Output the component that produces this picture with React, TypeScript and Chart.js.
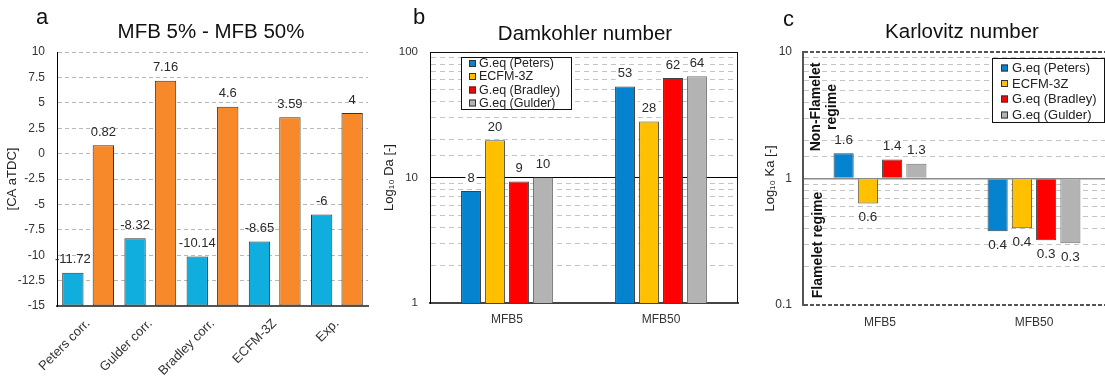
import React, { useEffect, useRef } from 'react';
import { Chart, registerables } from 'chart.js';

Chart.register(...registerables);

const FONT = "'Liberation Sans', Arial, Helvetica, sans-serif";

// ---------- Panel a data ----------
const aCategories = ['Peters corr.', 'Gulder corr.', 'Bradley corr.', 'ECFM-3Z', 'Exp.'];
const aMfb5 = [-11.72, -8.32, -10.14, -8.65, -6];
const aMfb50 = [0.82, 7.16, 4.6, 3.59, 4];
const aMin = -15;
const aMax = 10;
const aStep = 2.5;

// ---------- Panel b / c data ----------
const seriesNames = ['G.eq (Peters)', 'ECFM-3Z', 'G.eq (Bradley)', 'G.eq (Gulder)'];
const seriesColors = ['#0683CE', '#FFC000', '#FF0000', '#B3B3B3'];
const seriesBorders = ['#404040', '#505050', '#404040', '#707070'];
const phaseCategories = ['MFB5', 'MFB50'];

const daPeters = [7.8, 53];
const daEcfm = [19.8, 28];
const daBradley = [9.3, 62];
const daGulder = [10, 64];

const kaPeters = [1.58, 0.383];
const kaEcfm = [0.635, 0.404];
const kaBradley = [1.415, 0.325];
const kaGulder = [1.31, 0.308];

const H = 376;

const isPow10 = (v: number) => Math.abs(Math.log10(v) - Math.round(Math.log10(v))) < 1e-6;

function textPlugin(letter: string, lx: number, ly: number, title: string, tx: number, ty: number, titleSize: number) {
  return {
    id: 'panelText',
    afterDraw(chart: any) {
      const ctx = chart.ctx;
      ctx.save();
      ctx.fillStyle = '#111';
      ctx.textBaseline = 'alphabetic';
      ctx.textAlign = 'left';
      ctx.font = `22px ${FONT}`;
      ctx.fillText(letter, lx, ly);
      ctx.textAlign = 'center';
      ctx.font = `${titleSize}px ${FONT}`;
      ctx.fillText(title, tx, ty);
      ctx.restore();
    },
  };
}

function valueLabelPlugin(opts: {
  size: number;
  format: (v: number) => string;
  offsetAbove: number;
  offsetBelow?: number;
  pivot?: number;
  bg?: boolean;
}) {
  return {
    id: 'valueLabels',
    afterDatasetsDraw(chart: any) {
      const ctx = chart.ctx;
      ctx.save();
      ctx.font = `${opts.size}px ${FONT}`;
      ctx.textAlign = 'center';
      ctx.textBaseline = 'middle';
      chart.data.datasets.forEach((ds: any, di: number) => {
        const meta = chart.getDatasetMeta(di);
        meta.data.forEach((el: any, i: number) => {
          const v = ds.data[i] as number;
          const text = opts.format(v);
          const below = opts.pivot !== undefined && v < opts.pivot;
          const y = below ? el.y + (opts.offsetBelow ?? opts.offsetAbove) : el.y - opts.offsetAbove;
          if (opts.bg) {
            const w = ctx.measureText(text).width;
            ctx.fillStyle = '#fff';
            ctx.fillRect(el.x - w / 2 - 2, y - opts.size / 2 - 1, w + 4, opts.size + 2);
          }
          ctx.fillStyle = '#2a2a2a';
          ctx.fillText(text, el.x, y);
        });
      });
      ctx.restore();
    },
  };
}

function legendPlugin(box: { x: number; y: number; w: number; h: number }, rows: number[], markerX: number, textX: number, fontSize: number, marker: number) {
  return {
    id: 'boxLegend',
    afterDraw(chart: any) {
      const ctx = chart.ctx;
      ctx.save();
      ctx.fillStyle = '#fff';
      ctx.fillRect(box.x, box.y, box.w, box.h);
      ctx.strokeStyle = '#111';
      ctx.lineWidth = 1;
      ctx.strokeRect(box.x + 0.5, box.y + 0.5, box.w, box.h);
      ctx.font = `${fontSize}px ${FONT}`;
      ctx.textAlign = 'left';
      ctx.textBaseline = 'middle';
      chart.data.datasets.forEach((ds: any, i: number) => {
        const cy = rows[i];
        ctx.fillStyle = ds.backgroundColor;
        ctx.fillRect(markerX, cy - marker / 2, marker, marker);
        ctx.strokeStyle = '#333';
        ctx.strokeRect(markerX + 0.5, cy - marker / 2 + 0.5, marker - 1, marker - 1);
        ctx.fillStyle = '#222';
        ctx.fillText(ds.label, textX, cy + 0.5);
      });
      ctx.restore();
    },
  };
}

function framePlugin() {
  return {
    id: 'frame',
    afterDatasetsDraw(chart: any) {
      const { ctx, chartArea: a } = chart;
      ctx.save();
      ctx.strokeStyle = '#111';
      ctx.lineWidth = 1;
      ctx.beginPath();
      ctx.moveTo(a.left, Math.round(a.top) + 0.5);
      ctx.lineTo(a.right, Math.round(a.top) + 0.5);
      ctx.moveTo(Math.round(a.right) - 0.5, a.top);
      ctx.lineTo(Math.round(a.right) - 0.5, a.bottom);
      ctx.stroke();
      ctx.restore();
    },
  };
}

function regimePlugin() {
  return {
    id: 'regime',
    afterDatasetsDraw(chart: any) {
      const ctx = chart.ctx;
      ctx.save();
      ctx.fillStyle = '#111';
      ctx.font = `bold 14px ${FONT}`;
      ctx.textAlign = 'center';
      ctx.textBaseline = 'middle';
      ctx.translate(74, 107);
      ctx.rotate(-Math.PI / 2);
      ctx.fillText('Non-Flamelet', 0, 0);
      ctx.fillText('regime', 0, 16);
      ctx.restore();
      ctx.save();
      ctx.fillStyle = '#111';
      ctx.font = `bold 14px ${FONT}`;
      ctx.textAlign = 'center';
      ctx.textBaseline = 'middle';
      ctx.translate(76, 245);
      ctx.rotate(-Math.PI / 2);
      ctx.fillText('Flamelet regime', 0, 0);
      ctx.restore();
    },
  };
}

function configA(width: number) {
  const areaLeft = 57, areaRight = 368, areaTop = 52, areaBottom = 306;
  return {
    type: 'bar',
    data: {
      labels: aCategories,
      datasets: [
        { label: 'MFB 5%', data: aMfb5, backgroundColor: '#10ADDF', borderColor: '#333', borderWidth: 1, borderSkipped: false, base: aMin },
        { label: 'MFB 50%', data: aMfb50, backgroundColor: '#F7892A', borderColor: '#333', borderWidth: 1, borderSkipped: false, base: aMin },
      ],
    },
    options: {
      animation: false,
      responsive: false,
      devicePixelRatio: 1,
      layout: { padding: { left: 0, top: areaTop, right: width - areaRight, bottom: 0 } },
      plugins: { legend: { display: false }, tooltip: { enabled: false }, title: { display: false } },
      datasets: { bar: { categoryPercentage: 0.98, barPercentage: 0.7 } },
      scales: {
        x: {
          grid: { display: false },
          border: { display: true, color: '#555', width: 2 },
          ticks: { maxRotation: 45, minRotation: 45, font: { family: FONT, size: 13 }, color: '#333', padding: 2 },
          afterFit: (s: any) => { s.height = H - areaBottom; },
        },
        y: {
          min: aMin,
          max: aMax,
          ticks: { stepSize: aStep, font: { family: FONT, size: 12 }, color: '#333', padding: 12 },
          grid: { color: '#b8b8b8', drawTicks: false, lineWidth: 1 },
          border: { display: true, color: '#000', width: 1, dash: [4, 3] },
          title: { display: true, text: '[CA aTDC]', font: { family: FONT, size: 13 }, color: '#222', padding: { top: 5, bottom: 0 } },
          afterFit: (s: any) => { s.width = areaLeft; },
        },
      },
    },
    plugins: [
      valueLabelPlugin({ size: 13, format: (v) => String(v), offsetAbove: 13 }),
      textPlugin('a', 36, 24, 'MFB 5% - MFB 50%', 211, 38, 20.5),
    ],
  };
}

function phaseDatasets(values: number[][], base?: number) {
  return values.map((d, i) => ({
    label: seriesNames[i],
    data: d,
    backgroundColor: seriesColors[i],
    borderColor: seriesBorders[i],
    borderWidth: 1,
    ...(base !== undefined ? { base } : {}),
  }));
}

function configB(left: number, width: number) {
  const areaLeft = 430 - left, areaRight = 738 - left, areaTop = 52, areaBottom = 303;
  return {
    type: 'bar',
    data: { labels: phaseCategories, datasets: phaseDatasets([daPeters, daEcfm, daBradley, daGulder]) },
    options: {
      animation: false,
      responsive: false,
      devicePixelRatio: 1,
      layout: { padding: { left: 0, top: areaTop, right: width - areaRight, bottom: 0 } },
      plugins: { legend: { display: false }, tooltip: { enabled: false }, title: { display: false } },
      datasets: { bar: { categoryPercentage: 0.623, barPercentage: 0.83 } },
      scales: {
        x: {
          grid: { display: false },
          border: { display: true, color: '#444', width: 2 },
          ticks: { maxRotation: 0, minRotation: 0, font: { family: FONT, size: 12 }, color: '#333', padding: 1 },
          afterFit: (s: any) => { s.height = H - areaBottom; },
        },
        y: {
          type: 'logarithmic',
          min: 1,
          max: 100,
          ticks: {
            autoSkip: false,
            font: { family: FONT, size: 11.5 },
            color: '#333',
            padding: 12,
            callback: (v: any) => (isPow10(Number(v)) ? String(Math.round(Number(v))) : ''),
          },
          grid: {
            drawTicks: false,
            color: (c: any) => (c.tick && Math.abs(c.tick.value - 10) < 1e-6 ? '#000' : '#c4c4c4'),
            lineWidth: 1,
          },
          border: {
            display: true,
            color: '#000',
            width: 1,
            dash: (c: any) => (c.tick && Math.abs(c.tick.value - 10) < 1e-6 ? [] : [5, 4]),
          },
          title: { display: true, text: 'Log\u2081\u2080 Da [-]', font: { family: FONT, size: 13 }, color: '#222', padding: { top: 10, bottom: 0 } },
          afterFit: (s: any) => { s.width = areaLeft; },
        },
      },
    },
    plugins: [
      framePlugin(),
      valueLabelPlugin({ size: 13, format: (v) => String(Math.round(v)), offsetAbove: 13, bg: true }),
      legendPlugin({ x: 461 - left, y: 57, w: 110, h: 52 }, [63.5, 76.5, 90, 103], 469 - left, 479 - left, 12.5, 7),
      textPlugin('b', 413 - left, 24, 'Damkohler number', 585 - left, 40, 20.5),
    ],
  };
}

function configC(left: number, width: number) {
  const areaLeft = 803 - left, areaRight = 1111 - left, areaTop = 52, areaBottom = 305;
  const near = (a: number, b: number) => Math.abs(a - b) < 1e-6 * Math.max(1, b);
  return {
    type: 'bar',
    data: { labels: phaseCategories, datasets: phaseDatasets([kaPeters, kaEcfm, kaBradley, kaGulder], 1) },
    options: {
      animation: false,
      responsive: false,
      devicePixelRatio: 1,
      layout: { padding: { left: 0, top: areaTop, right: width - areaRight, bottom: 0 } },
      plugins: { legend: { display: false }, tooltip: { enabled: false }, title: { display: false } },
      datasets: { bar: { categoryPercentage: 0.63, barPercentage: 0.83 } },
      scales: {
        x: {
          grid: { display: false },
          border: { display: false },
          ticks: { maxRotation: 0, minRotation: 0, font: { family: FONT, size: 12 }, color: '#333', padding: 2 },
          afterFit: (s: any) => { s.height = H - areaBottom; },
        },
        y: {
          type: 'logarithmic',
          min: 0.1,
          max: 10,
          ticks: {
            autoSkip: false,
            font: { family: FONT, size: 12 },
            color: '#333',
            padding: 11,
            callback: (v: any) => (isPow10(Number(v)) ? String(Number(Number(v).toPrecision(3))) : ''),
          },
          grid: {
            drawTicks: false,
            color: (c: any) => {
              if (!c.tick) return '#c4c4c4';
              const v = c.tick.value;
              if (near(v, 1)) return '#8a8a8a';
              if (near(v, 10) || near(v, 0.1)) return '#555';
              return '#c4c4c4';
            },
            lineWidth: (c: any) => {
              if (!c.tick) return 1;
              const v = c.tick.value;
              if (near(v, 10) || near(v, 0.1)) return 2;
              if (near(v, 1)) return 1.5;
              return 1;
            },
          },
          border: {
            display: true,
            color: '#555',
            width: 2,
            dash: (c: any) => {
              if (!c.tick) return [];
              const v = c.tick.value;
              if (near(v, 1)) return [];
              if (near(v, 10) || near(v, 0.1)) return [4, 2];
              return [5, 4];
            },
          },
          title: { display: true, text: 'Log\u2081\u2080 Ka [-]', font: { family: FONT, size: 13 }, color: '#222', padding: { top: 21, bottom: 0 } },
          afterFit: (s: any) => { s.width = areaLeft; },
        },
      },
    },
    plugins: [
      valueLabelPlugin({ size: 13.5, format: (v) => v.toFixed(1), offsetAbove: 13, offsetBelow: 14, pivot: 1 }),
      regimePlugin(),
      legendPlugin({ x: 992 - left, y: 58, w: 112, h: 64 }, [68, 83.5, 99, 115], 1001 - left, 1012 - left, 13, 7),
      textPlugin('c', 783 - left, 26, 'Karlovitz number', 962 - left, 38, 20.5),
    ],
  };
}

function Panel({ left, width, build }: { left: number; width: number; build: () => any }) {
  const ref = useRef<HTMLCanvasElement>(null);
  useEffect(() => {
    const chart = new Chart(ref.current as HTMLCanvasElement, build());
    return () => chart.destroy();
  }, []);
  return (
    <canvas
      ref={ref}
      width={width}
      height={H}
      style={{ position: 'absolute', left, top: 0, width, height: H, display: 'block' }}
    />
  );
}

export default function App() {
  return (
    <div style={{ position: 'fixed', left: 0, top: 0, width: 1105, height: H, overflow: 'hidden', background: '#fff' }}>
      <Panel left={0} width={372} build={() => configA(372)} />
      <Panel left={372} width={370} build={() => configB(372, 370)} />
      <Panel left={742} width={372} build={() => configC(742, 372)} />
    </div>
  );
}
